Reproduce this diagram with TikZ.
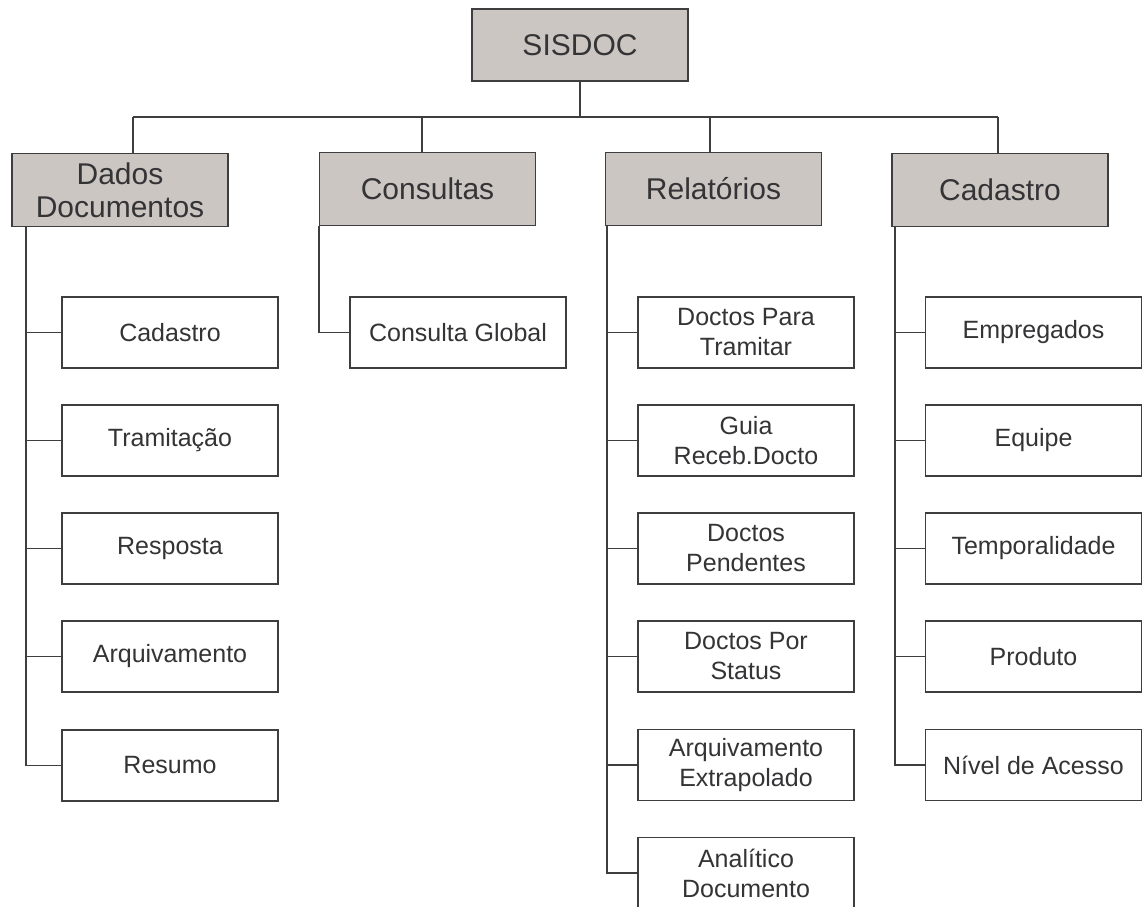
\documentclass[tikz,border=0pt]{standalone}
\usepackage{fontspec}
\setmainfont{Liberation Sans}
\definecolor{boxfill}{RGB}{204,198,195}
\definecolor{linecol}{RGB}{62,62,64}
\definecolor{txtcol}{RGB}{52,52,54}
\tikzset{
  topbox/.style={draw=linecol, fill=boxfill, line width=1.4pt, minimum width=216pt, minimum height=73pt, inner sep=0pt, align=center, text=txtcol, font=\fontsize{30}{33}\selectfont},
  childbox/.style={draw=linecol, fill=white, line width=1.4pt, minimum width=216pt, minimum height=71pt, inner sep=0pt, align=center, text=txtcol, font=\fontsize{25}{30}\selectfont},
  link/.style={draw=linecol, line width=1.4pt}
}
\begin{document}
\begin{tikzpicture}[x=1pt,y=-1pt]
\useasboundingbox (0,0) rectangle (1143,906);
\clip (0,0) rectangle (1143,906);
\fill[white] (0,0) rectangle (1143,906);
% root
\node[topbox, minimum height=72pt] (root) at (580,45) {SISDOC};
% top level
\node[topbox] (dados) at (120,190) {Dados\\Documentos};
\node[topbox] (cons) at (427.5,189) {Consultas};
\node[topbox] (rel) at (713.5,189) {Relatórios};
\node[topbox] (cad) at (1000,190) {Cadastro};
% bus
\coordinate (bus) at (580,117);
\coordinate (b1) at (133,117);
\coordinate (b2) at (422,117);
\coordinate (b3) at (710,117);
\coordinate (b4) at (998,117);
\draw[link] (root.south) -- (bus);
\draw[link] (b1) -- (b4);
\draw[link] (b1) -- (b1 |- dados.north);
\draw[link] (b2) -- (b2 |- cons.north);
\draw[link] (b3) -- (b3 |- rel.north);
\draw[link] (b4) -- (b4 |- cad.north);
% Dados children
\node[childbox] (d1) at (170,332.5) {Cadastro};
\node[childbox] (d2) at (170,440.5) {Tramitação};
\node[childbox] (d3) at (170,548.5) {Resposta};
\node[childbox] (d4) at (170,656.5) {Arquivamento};
\node[childbox] (d5) at (170,765.5) {Resumo};
\coordinate (dv) at (26,226.5);
\foreach \c in {d1,d2,d3,d4,d5} \draw[link] (dv) |- (\c.west);
% Consultas children
\node[childbox] (c1) at (458,332.5) {Consulta Global};
\coordinate (cv) at (319,225.5);
\draw[link] (cv) |- (c1.west);
% Relatorios children
\node[childbox] (r1) at (746,332.5) {Doctos Para\\Tramitar};
\node[childbox] (r2) at (746,440.5) {Guia\\Receb.Docto};
\node[childbox] (r3) at (746,548.5) {Doctos\\Pendentes};
\node[childbox] (r4) at (746,656.5) {Doctos Por\\Status};
\node[childbox] (r5) at (746,765) {Arquivamento\\Extrapolado};
\node[childbox] (r6) at (746,873) {Analítico\\Documento};
\coordinate (rv) at (607,225.5);
\foreach \c in {r1,r2,r3,r4,r5,r6} \draw[link] (rv) |- (\c.west);
% Cadastro children
\node[childbox] (k1) at (1033.5,332.5) {Empregados};
\node[childbox] (k2) at (1033.5,440.5) {Equipe};
\node[childbox] (k3) at (1033.5,548.5) {Temporalidade};
\node[childbox] (k4) at (1033.5,656.5) {Produto};
\node[childbox] (k5) at (1033.5,765) {Nível de Acesso};
\coordinate (kv) at (895,226.5);
\foreach \c in {k1,k2,k3,k4,k5} \draw[link] (kv) |- (\c.west);
\end{tikzpicture}
\end{document}
